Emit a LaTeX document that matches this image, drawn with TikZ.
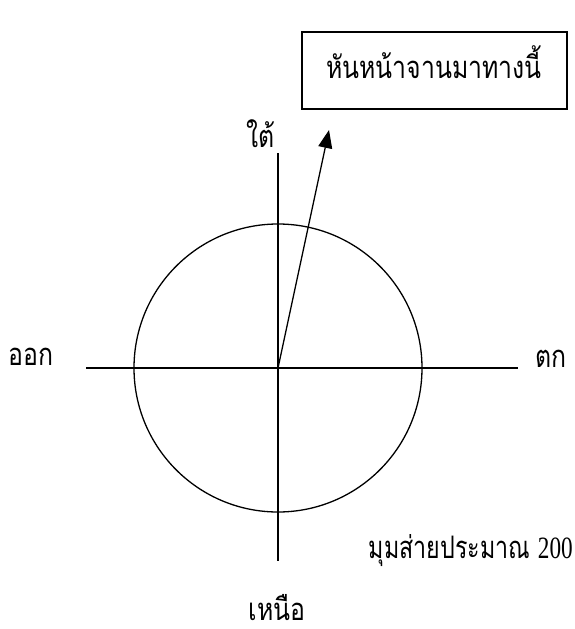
\documentclass[tikz,border=0pt]{standalone}
\usepackage{graphicx}
\usepackage{fontspec}
\newfontfamily\thaifont[Script=Thai]{Loma}
\newfontfamily\serifnum{Liberation Serif}
\newcommand\narrowtext[2][0.8]{\scalebox{#1}[1]{#2}}
\usetikzlibrary{arrows.meta}
\tikzset{
  line/.style={line width=1.3pt, black},
  lbl/.style={inner sep=0pt, anchor=base, font=\thaifont\fontsize{31}{34}\selectfont},
  tagbox/.style={draw, line width=1.3pt, minimum width=265pt, minimum height=77pt, inner sep=0pt}
}
\begin{document}
\begin{tikzpicture}[x=1pt,y=-1pt]
\useasboundingbox (0,0) rectangle (574,629);
\coordinate (o) at (278,368);
\coordinate (top) at (278,153);
\coordinate (bot) at (278,561);
\coordinate (lft) at (86,368);
\coordinate (rgt) at (518,368);
\coordinate (tip) at (329,130);
\draw[line] (o) circle (144pt);
\draw[line] (top) -- (bot);
\draw[line] (lft) -- (rgt);
\draw[line, -{Triangle[length=18pt,width=14pt]}] (o) -- (tip);
\node[tagbox] (box) at (434.5,70.5) {};
\node[lbl] (boxtext) at (434,78) {\narrowtext{หันหน้าจานมาทางนี้}};
\node[lbl] (south) at (261,147) {\narrowtext{ใต้}};
\node[lbl] (east) at (31,365) {\narrowtext{ออก}};
\node[lbl] (west) at (551,367) {\narrowtext{ตก}};
\node[lbl, text depth=0pt] (north) at (277,620) {\narrowtext{เหนือ}};
\node[lbl, anchor=base east] (angle) at (573,558) {\narrowtext[0.75]{มุมส่ายประมาณ {\serifnum 200}}};
\end{tikzpicture}
\end{document}
